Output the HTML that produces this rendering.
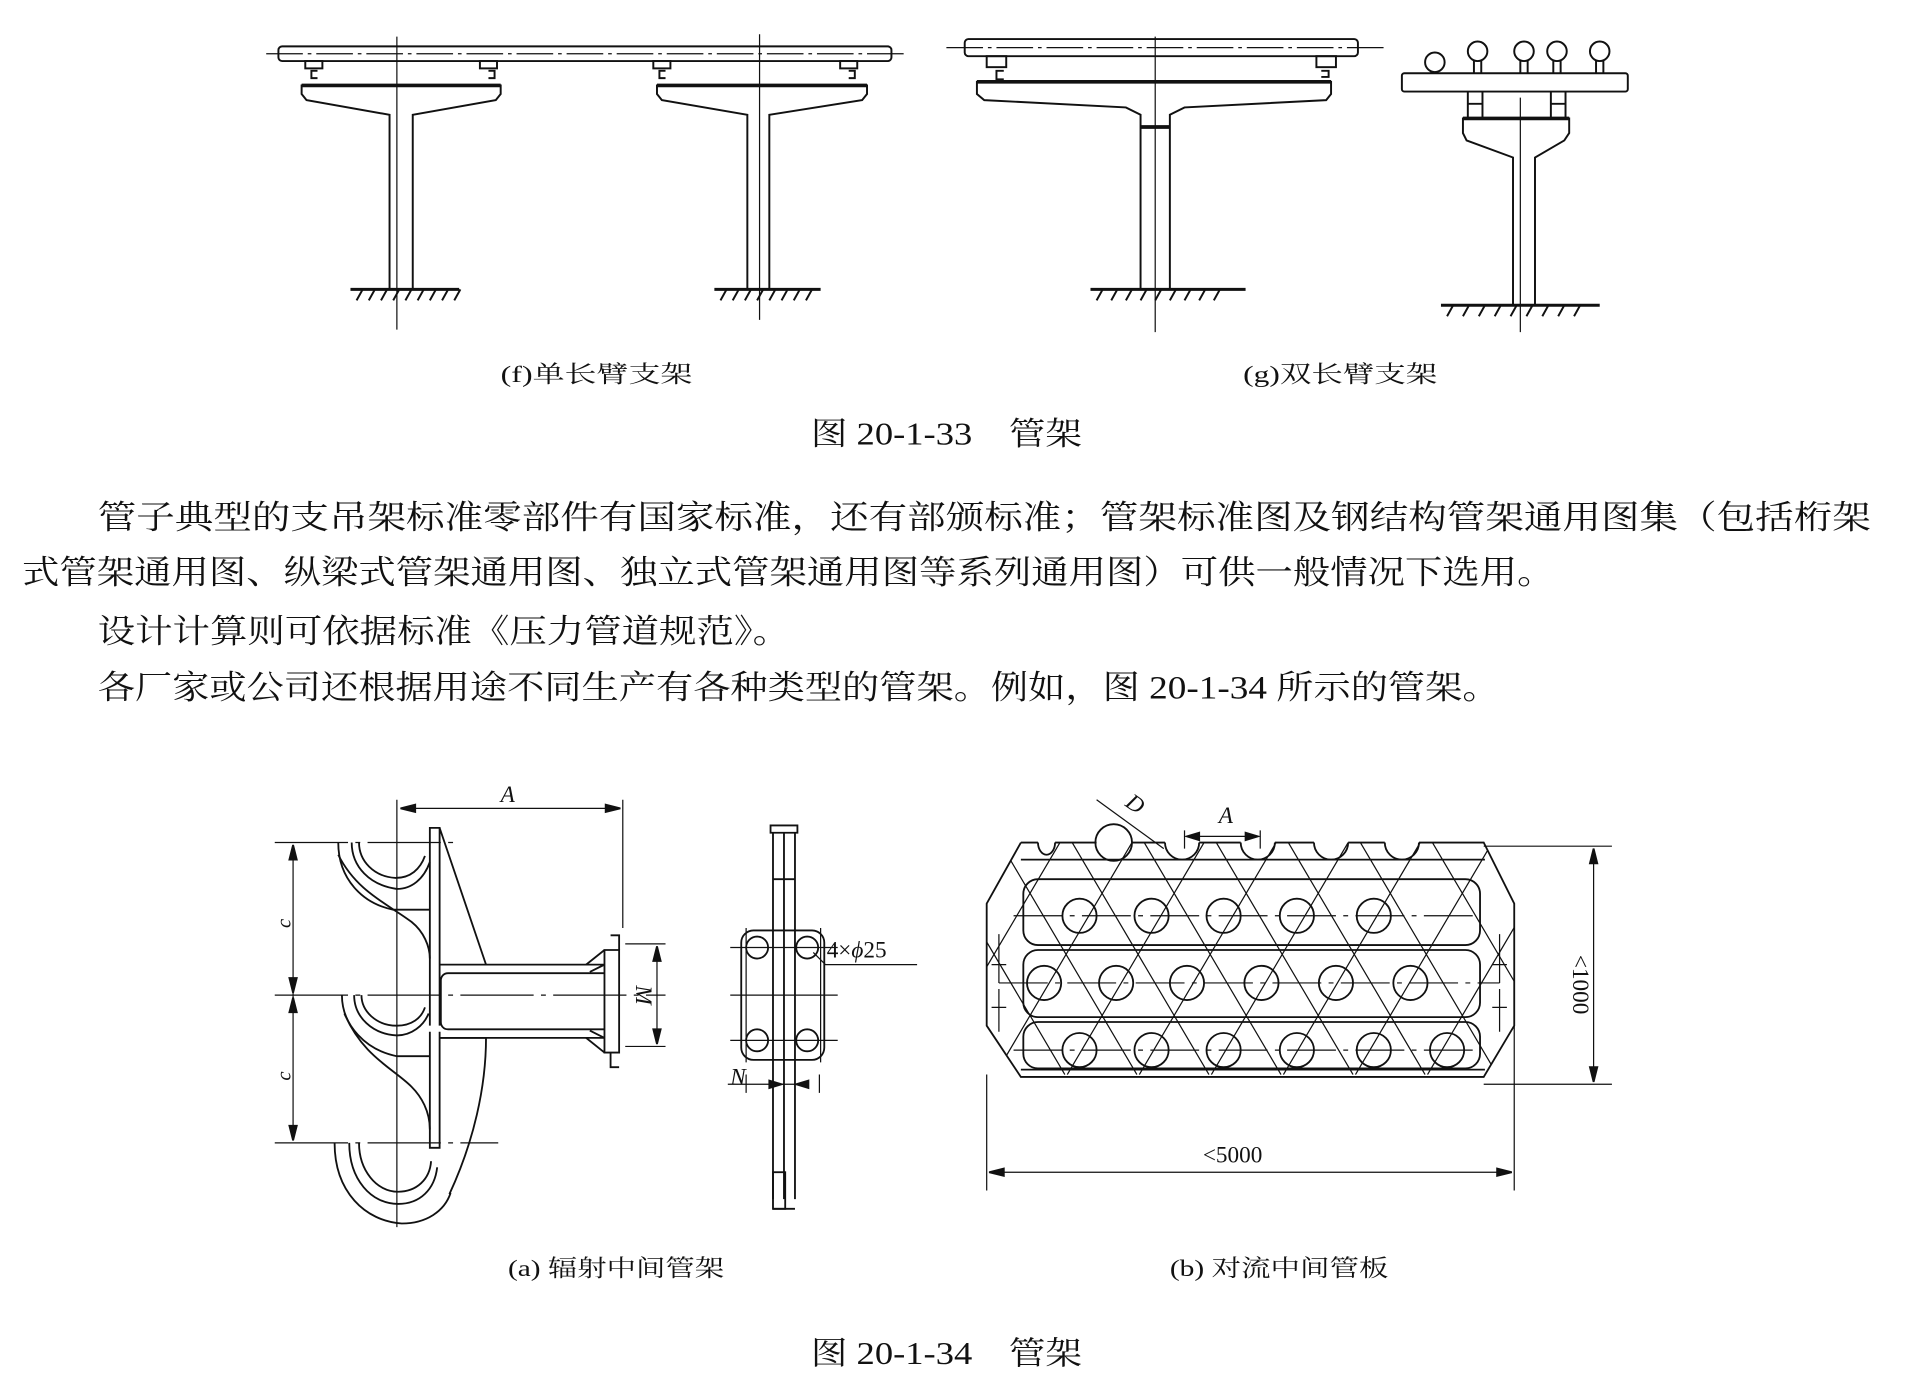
<!DOCTYPE html>
<html><head><meta charset="utf-8"><style>
html,body{margin:0;padding:0;background:#fff;}
svg{display:block;}
text{font-family:"Liberation Serif","Noto Serif CJK SC","Noto Sans CJK SC",serif;fill:#111;}
</style></head><body>
<svg width="1905" height="1392" viewBox="0 0 1560 1140" preserveAspectRatio="none" xmlns="http://www.w3.org/2000/svg">
<g fill="none" stroke="#111" stroke-width="1.6">
<!-- Fig f -->
<rect x="228" y="38" width="502" height="12" rx="3"/>
<line x1="218" y1="44" x2="740" y2="44" stroke-dasharray="30,4,3,4" stroke-width="1"/>
<line x1="325" y1="30" x2="325" y2="270" stroke-width="1"/>
<line x1="622" y1="28" x2="622" y2="262" stroke-width="1"/>
<rect x="250" y="50" width="14" height="6"/><rect x="393" y="50" width="14" height="6"/>
<rect x="535" y="50" width="14" height="6"/><rect x="688" y="50" width="14" height="6"/>
<path d="M260 58h-5v6h5M400 58h5v6h-5M545 58h-5v6h5M695 58h5v6h-5"/>
<path d="M247 70h163v7l-4 5-68 12v143h-19v-143l-68-12-4-5z"/>
<line x1="247" y1="70" x2="410" y2="70" stroke-width="3"/>
<path d="M538 70h172v7l-4 5-76 12v143h-18v-143l-70-12-4-5z"/>
<line x1="538" y1="70" x2="710" y2="70" stroke-width="3"/>
<line x1="287" y1="237" x2="376" y2="237" stroke-width="2.5"/>
<path d="M292 246l5-9M302 246l5-9M312 246l5-9M322 246l5-9M332 246l5-9M342 246l5-9M352 246l5-9M362 246l5-9M372 246l5-9"/>
<line x1="585" y1="237" x2="672" y2="237" stroke-width="2.5"/>
<path d="M590 246l5-9M600 246l5-9M610 246l5-9M620 246l5-9M630 246l5-9M640 246l5-9M650 246l5-9M660 246l5-9"/>
<!-- Fig g -->
<rect x="790" y="32" width="322" height="14" rx="3"/>
<line x1="775" y1="39" x2="1133" y2="39" stroke-dasharray="30,4,3,4" stroke-width="1"/>
<line x1="946" y1="30" x2="946" y2="272" stroke-width="1"/>
<rect x="808" y="46" width="16" height="9"/><rect x="1078" y="46" width="16" height="9"/>
<path d="M822 58h-6v7h6M1082 58h6v5h-6"/>
<path d="M800 67h290v10l-4 5-116 6-12 6v143h-24v-143l-12-6-116-6-6-5z"/>
<line x1="800" y1="67" x2="1090" y2="67" stroke-width="3"/>
<line x1="934" y1="104" x2="958" y2="104" stroke-width="3"/>
<line x1="893" y1="237" x2="1020" y2="237" stroke-width="2.5"/>
<path d="M898 246l5-9M910 246l5-9M922 246l5-9M934 246l5-9M946 246l5-9M958 246l5-9M970 246l5-9M982 246l5-9M994 246l5-9"/>
<rect x="1148" y="60" width="185" height="15" rx="2"/>
<circle cx="1175" cy="51" r="8"/><line x1="1172" y1="59" x2="1172" y2="60"/>
<g><circle cx="1210" cy="42" r="8"/><path d="M1207 50v10M1213 50v10"/></g>
<g><circle cx="1248" cy="42" r="8"/><path d="M1245 50v10M1251 50v10"/></g>
<g><circle cx="1275" cy="42" r="8"/><path d="M1272 50v10M1278 50v10"/></g>
<g><circle cx="1310" cy="42" r="8"/><path d="M1307 50v10M1313 50v10"/></g>
<path d="M1202 75v22M1214 75v22M1270 75v22M1282 75v22M1202 85h12M1270 85h12"/>
<path d="M1198 97h87v12l-4 6-24 14v121h-18v-121l-38-14-3-6z"/>
<line x1="1198" y1="97" x2="1285" y2="97" stroke-width="3"/>
<line x1="1245" y1="80" x2="1245" y2="272" stroke-width="1"/>
<line x1="1180" y1="250" x2="1310" y2="250" stroke-width="2.5"/>
<path d="M1185 259l5-9M1198 259l5-9M1211 259l5-9M1224 259l5-9M1237 259l5-9M1250 259l5-9M1263 259l5-9M1276 259l5-9M1289 259l5-9"/>
</g>
<g font-size="19">
<text x="410" y="313" textLength="157" lengthAdjust="spacingAndGlyphs">(f)单长臂支架</text>
<text x="1018" y="313" textLength="159" lengthAdjust="spacingAndGlyphs">(g)双长臂支架</text>
</g>
<text x="664" y="364" font-size="26" textLength="222" lengthAdjust="spacingAndGlyphs">图 20-1-33　管架</text>
<g font-size="27">
<text x="80" y="433" textLength="1452" lengthAdjust="spacingAndGlyphs">管子典型的支吊架标准零部件有国家标准，还有部颁标准；管架标准图及钢结构管架通用图集（包括桁架</text>
<text x="18" y="478" textLength="1255" lengthAdjust="spacingAndGlyphs">式管架通用图、纵梁式管架通用图、独立式管架通用图等系列通用图）可供一般情况下选用。</text>
<text x="80" y="526" textLength="567" lengthAdjust="spacingAndGlyphs">设计计算则可依据标准《压力管道规范》。</text>
<text x="80" y="572" textLength="1148" lengthAdjust="spacingAndGlyphs">各厂家或公司还根据用途不同生产有各种类型的管架。例如，图 20-1-34 所示的管架。</text>
</g>
<!-- Fig a -->
<g fill="none" stroke="#111" stroke-width="1.5">
<line x1="325" y1="655" x2="325" y2="1005" stroke-width="1"/>
<line x1="510" y1="655" x2="510" y2="760" stroke-width="1"/>
<line x1="328" y1="662" x2="508" y2="662" stroke-width="1"/>
<path d="M328 662l12-3v6zM508 662l-12-3v6z" fill="#111"/>
<line x1="225" y1="690" x2="372" y2="690" stroke-width="1" stroke-dasharray="60,6,4,6"/>
<line x1="225" y1="815" x2="545" y2="815" stroke-width="1" stroke-dasharray="60,6,4,6"/>
<line x1="225" y1="936" x2="408" y2="936" stroke-width="1" stroke-dasharray="60,6,4,6"/>
<line x1="240" y1="692" x2="240" y2="934" stroke-width="1"/>
<path d="M240 692l-3 12h6zM240 813l-3-12h6zM240 817l-3 12h6zM240 934l-3-12h6z" fill="#111"/>
<!-- plate and rib -->
<path d="M352 840V678h8v162M352 845v95h8v-95"/>
<path d="M360 678l38 112M360 850h38c0 40-10 85-30 128"/>
<!-- U hooks -->
<path d="M277 690c0 30 20 50 45 55h30M288 690c0 20 15 35 37 38 12 0 22-8 27-22M294 690c0 15 12 28 30 29 12 0 20-7 24-18"/>
<path d="M277 700c15 30 40 40 60 55 10 8 15 20 15 30"/>
<path d="M280 815c0 25 20 45 45 50h27M290 815c0 18 15 32 35 33 12 0 22-8 26-18M296 815c0 13 12 25 29 25 12 0 20-6 23-15"/>
<path d="M282 830c15 35 40 45 55 60 8 8 15 20 15 35"/>
<path d="M274 936c0 40 25 64 55 66 20 0 35-10 40-25M286 936c0 30 18 50 40 50 18 0 30-12 32-30M294 936c0 22 14 40 32 40 15 0 26-10 27-25"/>
<!-- pipe stub -->
<path d="M360 790h135M360 850h135M367 797h128M367 843h128M367 797c-4 0-6 3-6 6v34c0 3 2 6 6 6"/>
<path d="M495 778v84h12v-84zM495 790l-12 6M495 850l-12-6M495 778l-15 12M495 862l-15-12"/>
<path d="M500 766h7v12M500 862v12h7"/>
<line x1="512" y1="773" x2="545" y2="773" stroke-width="1"/>
<line x1="512" y1="857" x2="545" y2="857" stroke-width="1"/>
<line x1="538" y1="775" x2="538" y2="855" stroke-width="1"/>
<path d="M538 775l-3 12h6zM538 855l-3-12h6z" fill="#111"/>
<!-- side view -->
<path d="M631 676h22v6h-22zM633 682v300M651 682v300M642 682v300M633 720h18M633 990h18"/>
<rect x="633" y="960" width="10" height="30"/>
<rect x="607" y="762" width="68" height="106" rx="10"/>
<circle cx="620" cy="776" r="9"/><circle cx="661" cy="776" r="9"/>
<circle cx="620" cy="852" r="9"/><circle cx="661" cy="852" r="9"/>
<path d="M598 776h88M598 815h88M598 852h88" stroke-width="1"/>
<path d="M611 760v110M672 760v110" stroke-width="1"/>
<path d="M666 780l10 10h75" stroke-width="1"/>
<path d="M596 888h64M611 880v15M671 880v15" stroke-width="1"/>
<path d="M640 888l-10-3v6zM652 888l10-3v6z" fill="#111"/>
</g>
<text x="410" y="657" font-size="19" font-style="italic">A</text>
<text x="222" y="760" font-size="17" font-style="italic" transform="rotate(-90 230 752)">c</text>
<text x="222" y="885" font-size="17" font-style="italic" transform="rotate(-90 230 877)">c</text>
<text x="520" y="822" font-size="19" font-style="italic" transform="rotate(90 528 815)">M</text>
<text x="677" y="784" font-size="19" font-family="Liberation Sans, sans-serif">4×<tspan font-style="italic">ϕ</tspan>25</text>
<text x="598" y="888" font-size="19" font-style="italic">N</text>
<!-- Fig b -->
<defs><clipPath id="cp"><path d="M836 690h379l25 50v100l-25 42h-379l-28-42v-100z"/></clipPath></defs>
<g fill="none" stroke="#111" stroke-width="1.5">
<path d="M836 690h14M864 690h34M927 690h27M982 690h34M1044 690h32M1104 690h30M1162 690h53l25 50v100l-25 42h-379l-28-42v-100l28-50"/>
<path d="M850 690a7 10 0 0 0 14 0M954 690a14 14 0 0 0 28 0M1016 690a14 14 0 0 0 28 0M1076 690a14 14 0 0 0 28 0M1134 690a14 14 0 0 0 28 0"/>
<circle cx="912" cy="690" r="15"/>
<path d="M836 704h380M836 876h380"/>
<rect x="838" y="720" width="374" height="54" rx="12"/>
<rect x="838" y="778" width="374" height="55" rx="12"/>
<rect x="838" y="837" width="374" height="38" rx="12"/>
<g stroke-width="1" clip-path="url(#cp)">
<path d="M760 690l112 190M819 690l112 190M878 690l112 190M937 690l112 190M996 690l112 190M1055 690l112 190M1114 690l112 190M1173 690l112 190M1232 690l112 190"/>
<path d="M868 690l-112 190M927 690l-112 190M986 690l-112 190M1045 690l-112 190M1104 690l-112 190M1163 690l-112 190M1222 690l-112 190M1281 690l-112 190M1340 690l-112 190"/>
</g>
<g id="r1"><circle cx="884" cy="750" r="14"/><circle cx="943" cy="750" r="14"/><circle cx="1002" cy="750" r="14"/><circle cx="1062" cy="750" r="14"/><circle cx="1125" cy="750" r="14"/></g>
<circle cx="855" cy="805" r="14"/><circle cx="914" cy="805" r="14"/><circle cx="972" cy="805" r="14"/><circle cx="1033" cy="805" r="14"/><circle cx="1094" cy="805" r="14"/><circle cx="1155" cy="805" r="14"/>
<circle cx="884" cy="860" r="14"/><circle cx="943" cy="860" r="14"/><circle cx="1002" cy="860" r="14"/><circle cx="1062" cy="860" r="14"/><circle cx="1125" cy="860" r="14"/><circle cx="1185" cy="860" r="14"/>
<path d="M830 750h380M818 805h410M830 860h380" stroke-width="1" stroke-dasharray="40,6,4,6"/>
<path d="M818 765v40M818 810v35M1228 765v40M1228 810v35M812 790h12M1222 790h12M812 825h12M1222 825h12" stroke-width="1"/>
<path d="M1215 693h105M1215 888h105M1305 695v191" stroke-width="1"/>
<path d="M1305 695l-3 12h6zM1305 886l-3-12h6z" fill="#111"/>
<path d="M808 880v95M1240 840v135M810 960h428" stroke-width="1"/>
<path d="M810 960l12-3v6zM1238 960l-12-3v6z" fill="#111"/>
<path d="M970 680v15M1032 680v15M972 685h58" stroke-width="1"/>
<path d="M972 685l10-3v6zM1030 685l-10-3v6z" fill="#111"/>
<path d="M898 655l55 40" stroke-width="1"/>
</g>
<text x="998" y="674" font-size="19" font-style="italic">A</text>
<text x="922" y="665" font-size="19" font-style="italic" transform="rotate(35 930 660)">D</text>
<text x="985" y="952" font-size="19" font-family="Liberation Sans, sans-serif">&lt;5000</text>
<text x="1280" y="790" font-size="19" font-family="Liberation Sans, sans-serif" transform="rotate(90 1288 790)">&lt;1000</text>
<g font-size="19">
<text x="416" y="1045" textLength="177" lengthAdjust="spacingAndGlyphs">(a) 辐射中间管架</text>
<text x="958" y="1045" textLength="179" lengthAdjust="spacingAndGlyphs">(b) 对流中间管板</text>
</g>
<text x="664" y="1117" font-size="26" textLength="222" lengthAdjust="spacingAndGlyphs">图 20-1-34　管架</text>
</svg>
</body></html>
